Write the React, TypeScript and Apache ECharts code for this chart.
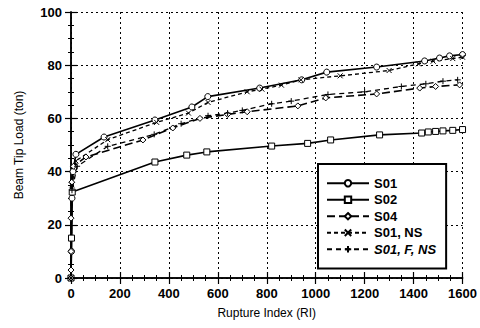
import React, { useEffect, useRef } from "react";
import * as echarts from "echarts";

const s01: number[][] = [[0,0],[2,10],[4,30],[8,40],[20,46.5],[135,53],[343,59.4],[494,64.3],[559,68.2],[771,71.4],[943,74.5],[1045,77.4],[1249,79.3],[1445,81.6],[1506,82.7],[1547,83.5],[1600,84]];
const s02: number[][] = [[0,0],[2,15],[5,32.3],[343,43.6],[473,46.2],[555,47.4],[820,49.6],[967,50.6],[1061,51.9],[1261,53.8],[1433,54.5],[1460,54.9],[1490,55.1],[1520,55.3],[1560,55.5],[1600,55.8]];
const s04: number[][] = [[0,0],[0,3],[0,10],[0,22.5],[3,36],[10,42],[61,45.5],[294,51.9],[416,56.4],[527,60],[640,61.5],[720,62.5],[927,64.7],[1041,67.7],[1249,69.2],[1425,71.4],[1490,72],[1588,72.6]];
const s01ns: number[][] = [[0,0],[4,35],[20,44],[150,52],[350,58.5],[480,62],[560,66],[720,70],[780,71],[860,72.5],[940,74.5],[1100,76],[1300,78],[1420,80.5],[1480,81.5],[1560,82.5],[1600,83]];
const s01fns: number[][] = [[0,0],[4,33],[25,42],[150,49.5],[340,54],[450,58],[560,61],[640,62],[700,63],[820,65.5],[900,66.5],[1050,69],[1200,70],[1350,72],[1450,73],[1520,74],[1580,74.5]];

const seriesNames = ["S01", "S02", "S04", "S01, NS", "S01, F, NS"];

export default function App() {
  const ref = useRef<HTMLDivElement>(null);
  useEffect(() => {
    if (!ref.current) return;
    const chart = echarts.init(ref.current, null, { renderer: "svg" });
    const font = "Liberation Sans, Arial, sans-serif";
    const axisCommon = {
      min: 0,
      axisLine: { show: true, lineStyle: { color: "#000", width: 1.5 } },
      axisTick: { show: true, inside: true, length: 6, lineStyle: { color: "#000", width: 1.2 } },
      minorTick: { show: true, splitNumber: 4, length: 3, lineStyle: { color: "#000", width: 1 } },
    };
    const mk = (name: string, data: number[][], symbol: string, dash: any, width: number, symbolSize: number) => ({
      name,
      type: "line",
      data,
      symbol,
      symbolSize,
      showAllSymbol: true,
      lineStyle: { color: "#000", width, type: dash },
      itemStyle: { color: symbol.startsWith("path") ? "none" : "#fff", borderColor: "#000", borderWidth: 1 },
      emphasis: { disabled: true },
    });
    chart.setOption({
      animation: false,
      backgroundColor: "#fff",
      textStyle: { fontFamily: font },
      grid: { left: 71, top: 12, right: 16, bottom: 50, show: false },
      xAxis: [
        {
          ...axisCommon,
          type: "value",
          max: 1600,
          interval: 200,
          position: "bottom",
          name: "Rupture Index (RI)",
          nameLocation: "middle",
          nameGap: 29,
          nameTextStyle: { fontSize: 12, color: "#000", fontFamily: font },
          axisLabel: { fontSize: 13, color: "#000", fontWeight: "bold", margin: 9, fontFamily: font, formatter: (v: number) => String(v) },
          splitLine: { show: true, lineStyle: { color: "#000", type: [2, 3], width: 1 } },
        },
        {
          ...axisCommon,
          type: "value",
          max: 1600,
          interval: 200,
          position: "top",
          axisLabel: { show: false },
          splitLine: { show: false },
        },
      ],
      yAxis: [
        {
          ...axisCommon,
          type: "value",
          max: 100,
          interval: 20,
          position: "left",
          name: "Beam Tip Load (ton)",
          nameLocation: "middle",
          nameGap: 46,
          nameTextStyle: { fontSize: 12, color: "#000", fontFamily: font },
          axisLabel: { fontSize: 13, color: "#000", fontWeight: "bold", margin: 9, fontFamily: font },
          splitLine: { show: true, lineStyle: { color: "#000", type: [2, 3], width: 1 } },
        },
        {
          ...axisCommon,
          type: "value",
          max: 100,
          interval: 20,
          position: "right",
          axisLabel: { show: false },
          splitLine: { show: false },
        },
      ],
      legend: {
        orient: "vertical",
        left: 318,
        top: 164,
        width: 120,
        padding: [12, 10, 12, 8],
        itemGap: 2,
        itemWidth: 42,
        itemHeight: 8,
        backgroundColor: "#fff",
        borderColor: "#000",
        borderWidth: 2,
        borderRadius: 0,
        data: seriesNames,
        formatter: (n: string) => (n === "S01, F, NS" ? "{i|" + n + "}" : n),
        textStyle: {
          fontSize: 13,
          lineHeight: 14.5,
          fontWeight: "bold",
          color: "#000",
          fontFamily: font,
          rich: { i: { fontSize: 13, lineHeight: 14.5, fontWeight: "bold", fontStyle: "italic", color: "#000", fontFamily: font } },
        },
      },
      series: [
        mk("S01", s01, "circle", "solid", 1.6, 6),
        mk("S02", s02, "rect", "solid", 1.6, 6),
        mk("S04", s04, "diamond", [8, 4], 1.6, 6),
        mk("S01, NS", s01ns, "path://M0,0L10,10M10,0L0,10", [4, 3], 1.3, 5),
        mk("S01, F, NS", s01fns, "path://M5,0L5,10M0,5L10,5", [5, 4], 1.3, 6),
      ],
    });
    return () => chart.dispose();
  }, []);
  return <div ref={ref} style={{ width: 480, height: 328, position: "absolute", left: 0, top: 0 }} />;
}
